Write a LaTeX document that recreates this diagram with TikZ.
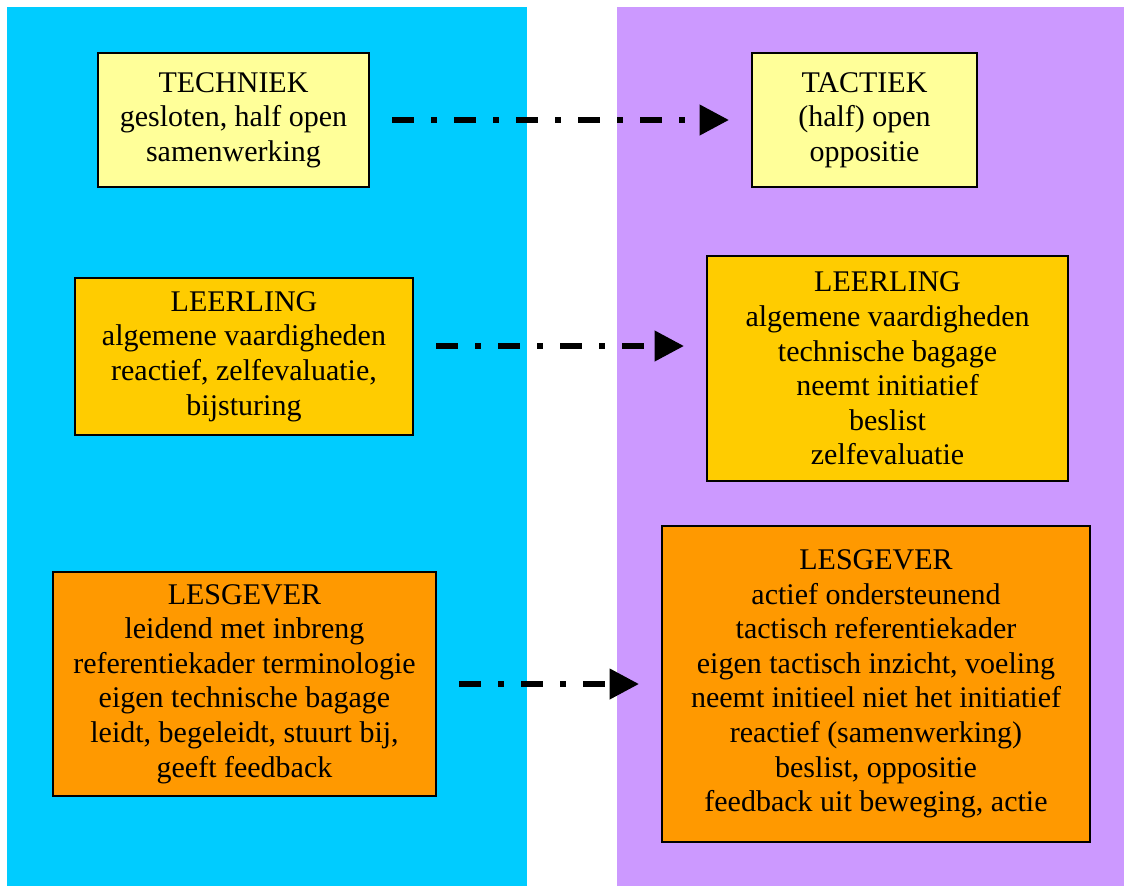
\documentclass[tikz,border=0pt]{standalone}
\usepackage{fontspec}
\setmainfont{Liberation Serif}
\usetikzlibrary{arrows.meta}
\definecolor{paneltech}{HTML}{00CCFF}
\definecolor{paneltact}{HTML}{CC99FF}
\definecolor{boxpale}{HTML}{FFFF99}
\definecolor{boxgold}{HTML}{FFCC00}
\definecolor{boxorange}{HTML}{FF9900}
\tikzset{
  box/.style={draw=black, line width=1.5pt, align=center, inner sep=0pt,
    font=\fontsize{22.5}{25.9}\selectfont},
  flow/.style={line width=4.5pt, dash pattern=on 16.5pt off 12.75pt on 4.5pt off 12.75pt,
    -{Triangle[length=22pt,width=22pt]}, shorten <=16.5pt, shorten >=16.5pt}
}
\begin{document}
\begin{tikzpicture}[x=0.75pt, y=-0.75pt]
\useasboundingbox (0,0) rectangle (1124,886);
% two backgrounds
\fill[paneltech] (7,7) rectangle (527,886);
\fill[paneltact] (617,7) rectangle (1124,886);
% left column
\node[box, fill=boxpale, minimum width=271*0.75pt, minimum height=134*0.75pt] (techniek) at (233.5,120)
  {TECHNIEK\\gesloten, half open\\samenwerking};
\node[box, fill=boxgold, minimum width=338*0.75pt, minimum height=157*0.75pt] (leerlingL) at (244,356.5)
  {LEERLING\\algemene vaardigheden\\reactief, zelfevaluatie,\\bijsturing};
\node[box, fill=boxorange, minimum width=383*0.75pt, minimum height=224*0.75pt] (lesgeverL) at (244.5,684)
  {LESGEVER\\leidend met inbreng\\referentiekader terminologie\\eigen technische bagage\\leidt, begeleidt, stuurt bij,\\geeft feedback};
% right column
\node[box, fill=boxpale, minimum width=225*0.75pt, minimum height=134*0.75pt] (tactiek) at (864.5,120)
  {TACTIEK\\(half) open\\oppositie};
\node[box, fill=boxgold, minimum width=361*0.75pt, minimum height=225*0.75pt] (leerlingR) at (887.5,368.5)
  {LEERLING\\algemene vaardigheden\\technische bagage\\neemt initiatief\\beslist\\zelfevaluatie};
\node[box, fill=boxorange, minimum width=428*0.75pt, minimum height=316*0.75pt] (lesgeverR) at (876,684)
  {LESGEVER\\actief ondersteunend\\tactisch referentiekader\\eigen tactisch inzicht, voeling\\neemt initieel niet het initiatief\\reactief (samenwerking)\\beslist, oppositie\\feedback uit beweging, actie};
% arrows
\coordinate (mid) at (560,346);
\draw[flow] (techniek) -- (tactiek);
\draw[flow] (leerlingL.east |- mid) -- (leerlingR.west |- mid);
\draw[flow] (lesgeverL) -- (lesgeverR);
\end{tikzpicture}
\end{document}
